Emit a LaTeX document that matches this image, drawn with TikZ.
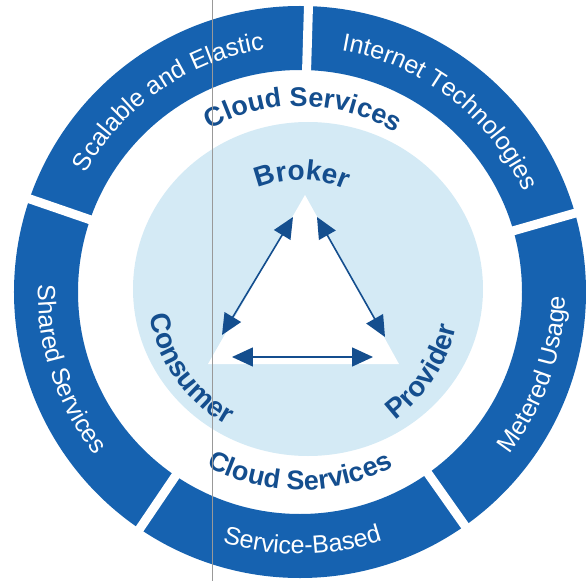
\documentclass[tikz,border=0pt]{standalone}
\usepackage{fontspec}
\setmainfont{Liberation Sans}
\usepackage{tikz}
\usetikzlibrary{arrows.meta, decorations.text}
\definecolor{ringblue}{RGB}{22,98,176}
\definecolor{textblue}{RGB}{20,78,142}
\definecolor{coreblue}{RGB}{212,234,245}
\newcommand{\ringfont}{\fontsize{25}{29}\selectfont\color{white}}
\newcommand{\rolefont}{\fontsize{28}{32}\selectfont\bfseries\color{textblue}}
\newcommand{\cloudfont}{\fontsize{27}{31}\selectfont\bfseries\color{textblue}}
\tikzset{
	>={Triangle[length=21pt, width=19pt]},
	gap/.style={white, line width=9pt},
	ringlabel/.style={decorate, decoration={text along path, text align=center, text={|\ringfont|#1}}},
	rolelabel/.style={decorate, decoration={text along path, text align=center, text={|\rolefont|#1}}},
	cloudlabel/.style={decorate, decoration={text along path, text align=center, text={|\cloudfont|#1}}},
	relation/.style={<->, textblue, line width=1.6pt},
	scanline/.style={gray!80, line width=0.8pt},
}

\begin{document}
\begin{tikzpicture}[x=1pt, y=1pt]
			\useasboundingbox (-300,-289) rectangle (286,292);
			\fill[ringblue, even odd rule] (0,0) circle (286) (0,0) circle (222);
			\foreach \a in {16,88.3,161,235.9,305.2}
				\draw[gap] (\a:212) -- (\a:296);
			\fill[coreblue] (8,3) ellipse [x radius=175, y radius=167];
			
			\coordinate (BROKER) at (5,97);
			\coordinate (CONSUMER) at (-92,-72);
			\coordinate (PROVIDER) at (99,-72);
			\fill[white] (BROKER) -- (CONSUMER) -- (PROVIDER) -- cycle;
			
			\path[ringlabel={Scalable and Elastic}] (161:245) arc[start angle=161, end angle=88.3, radius=245];
			\path[ringlabel={Internet Technologies}] (88.3:245) arc[start angle=88.3, end angle=16, radius=245];
			\path[ringlabel={Metered Usage}] (-54.8:265) arc[start angle=-54.8, end angle=16, radius=265];
			\path[ringlabel={Service-Based}] (-124.1:262) arc[start angle=-124.1, end angle=-54.8, radius=262];
			\path[ringlabel={Shared Services}] (161:262) arc[start angle=161, end angle=235.9, radius=262];
			
			\path[cloudlabel={Cloud Services}] (134:186) arc[start angle=134, end angle=44, radius=186];
			\path[cloudlabel={Cloud Services}] (-135:198) arc[start angle=-135, end angle=-45, radius=198];
			\path[rolelabel={Broker}] (134:112) arc[start angle=134, end angle=44, radius=112];
			\path[rolelabel={Consumer}] (170:152) arc[start angle=170, end angle=260, radius=152];
			\path[rolelabel={Provider}] (-78:160) arc[start angle=-78, end angle=12, radius=160];
			
			\coordinate (BROKERl) at (-7,75);
			\coordinate (BROKERr) at (17,75);
			\coordinate (CONSUMERt) at (-78,-43);
			\coordinate (CONSUMERr) at (-68,-65);
			\coordinate (PROVIDERt) at (85,-45);
			\coordinate (PROVIDERl) at (73,-65);
			\draw[relation] (BROKERl) -- (CONSUMERt);
			\draw[relation] (BROKERr) -- (PROVIDERt);
			\draw[relation] (CONSUMERr) -- (PROVIDERl);
			
			\draw[scanline] (-88,292) -- (-88,-289);
		\end{tikzpicture}
\end{document}
